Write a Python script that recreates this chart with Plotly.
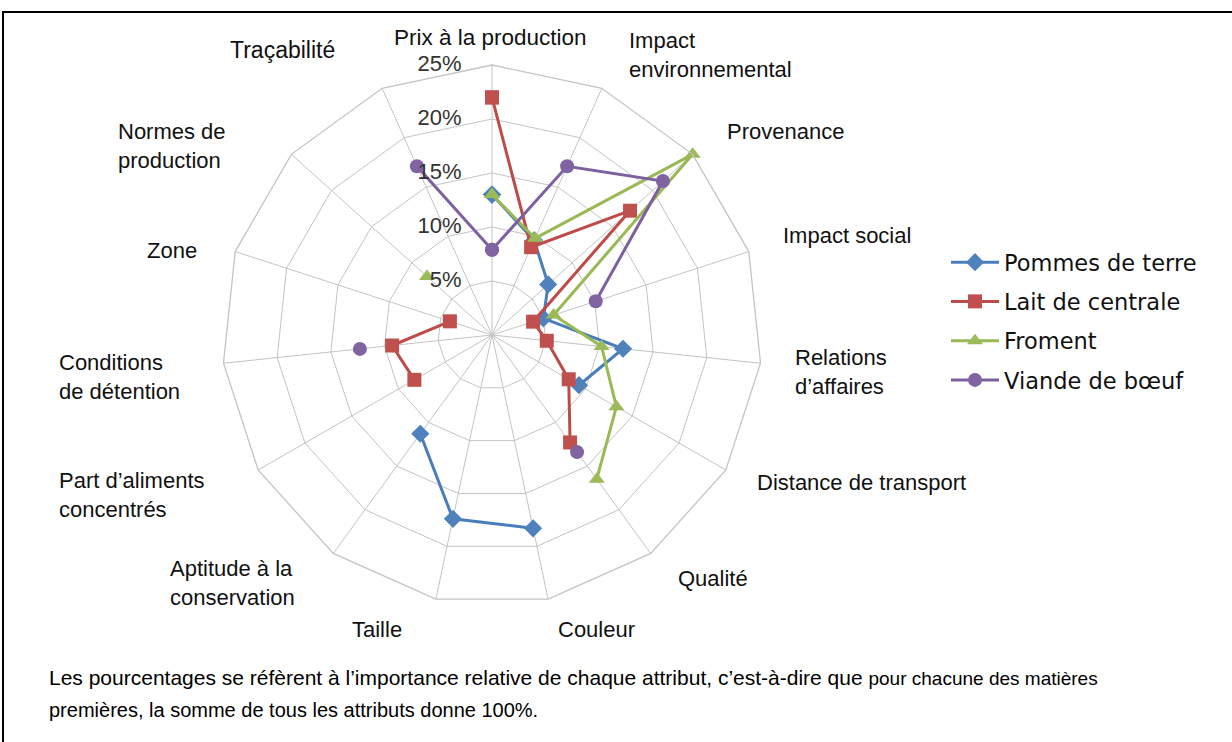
import plotly.graph_objects as go

W, H = 1232, 742

categories = [
    "Prix à la production", "Impact environnemental", "Provenance", "Impact social",
    "Relations d'affaires", "Distance de transport", "Qualité", "Couleur", "Taille",
    "Aptitude à la conservation", "Part d'aliments concentrés", "Conditions de détention",
    "Zone", "Normes de production", "Traçabilité",
]
category_labels = [
    "Prix à la production", "Impact<br>environnemental", "Provenance", "Impact social",
    "Relations<br>d’affaires", "Distance de transport", "Qualité", "Couleur", "Taille",
    "Aptitude à la<br>conservation", "Part d’aliments<br>concentrés", "Conditions<br>de détention",
    "Zone", "Normes de<br>production", "Traçabilité",
]

series_names = ["Pommes de terre", "Lait de centrale", "Froment", "Viande de bœuf"]
pommes = [13.0, 9.6, 7.0, 5.0, 12.2, 9.3, None, 18.3, 17.4, 11.3, None, None, None, None, None]
lait = [22.0, 8.9, 17.2, 4.0, 5.1, 8.2, 12.3, None, None, None, 8.3, 9.3, 4.1, None, None]
froment = [13.0, 9.8, 25.0, 6.0, 10.2, 13.3, 16.5, None, None, None, None, None, None, 8.1, None]
viande = [7.9, 17.1, 21.3, 10.1, None, None, 13.4, None, None, None, None, 12.3, None, None, 17.1]

radial_ticks = [0, 5, 10, 15, 20, 25]
tick_labels = ["0%", "5%", "10%", "15%", "20%", "25%"]

line_colors = ["#4A7EBB", "#BE4B48", "#98B954", "#7D60A0"]
fill_colors = ["#4F81BD", "#C0504D", "#9BBB59", "#8064A2"]
symbols = ["diamond", "square", "triangle-up", "circle"]
sizes = [14, 14, 14, 14]

# label placement (pixel positions of label anchors)
label_pos = [
    (490, 37, "center"), (627, 55, "left"), (725, 131, "left"), (781, 235, "left"),
    (793, 372, "left"), (755, 482, "left"), (676, 578, "left"), (596, 629, "center"),
    (377, 629, "center"), (168, 583, "left"), (57, 495, "left"), (57, 377, "left"),
    (145, 250, "left"), (116, 146, "left"), (228, 50, "left"),
]
label_sizes = [22.5, 22, 22, 22, 22, 22, 22, 22, 22, 22, 22, 22, 22, 22, 23]

cx, cy, R = 492, 335, 270


def px(x):
    return x / W


def py(y):
    return 1 - y / H


fig = go.Figure()

for name, vals, lc, fc, sym, sz in zip(series_names, [pommes, lait, froment, viande],
                                       line_colors, fill_colors, symbols, sizes):
    fig.add_trace(go.Scatterpolar(
        r=vals + [vals[0]],
        theta=categories + [categories[0]],
        mode="lines+markers",
        name=name,
        legendgroup=name,
        line=dict(color=lc, width=3),
        marker=dict(symbol=sym, size=sz, color=fc, line=dict(width=0)),
        connectgaps=False,
        cliponaxis=False,
    ))

fig.add_trace(go.Scatterpolar(
    r=radial_ticks,
    theta=[categories[0]] * len(radial_ticks),
    mode="text",
    text=[t + "\u00a0" * 5 for t in tick_labels],
    textposition="middle left",
    textfont=dict(family="Liberation Sans, Arial", size=22, color="#333333"),
    showlegend=False,
    hoverinfo="skip",
    cliponaxis=False,
))

annotations = []
for lab, (x, y, anc), fs in zip(category_labels, label_pos, label_sizes):
    annotations.append(dict(
        x=px(x), y=py(y), xref="paper", yref="paper", text=lab, showarrow=False,
        xanchor=anc, yanchor="middle", align=anc,
        font=dict(family="Liberation Sans, Arial", size=fs, color="#111111"),
    ))

annotations.append(dict(
    x=px(47), y=py(677), xref="paper", yref="paper", showarrow=False,
    xanchor="left", yanchor="middle", align="left",
    text="Les pourcentages se réfèrent à l’importance relative de chaque attribut, c’est-à-dire que "
         "<span style='font-size:19px'>pour chacune des matières</span>",
    font=dict(family="Liberation Sans, Arial", size=21, color="#000000"),
))
annotations.append(dict(
    x=px(47), y=py(710), xref="paper", yref="paper", showarrow=False,
    xanchor="left", yanchor="middle", align="left",
    text="premières, la somme de tous les attributs donne 100%.",
    font=dict(family="Liberation Sans, Arial", size=20, color="#000000"),
))

fig.update_layout(
    width=W, height=H,
    margin=dict(l=0, r=0, t=0, b=0),
    paper_bgcolor="white",
    plot_bgcolor="white",
    polar=dict(
        domain=dict(x=[px(cx - R), px(cx + R)], y=[py(cy + R), py(cy - R)]),
        bgcolor="white",
        gridshape="linear",
        radialaxis=dict(range=[0, 25], tickvals=radial_ticks, showticklabels=False,
                        showline=False, ticks="", gridcolor="#c4c4c4", gridwidth=1.3),
        angularaxis=dict(type="category", rotation=90, direction="clockwise",
                         showticklabels=False, ticks="", gridcolor="#c4c4c4", gridwidth=1.3,
                         showline=True, linecolor="#c4c4c4", linewidth=1.3),
    ),
    legend=dict(
        x=px(946), y=py(241), xanchor="left", yanchor="top",
        font=dict(family="DejaVu Sans", size=22.5, color="#111111"),
        bgcolor="white", tracegroupgap=7, itemwidth=48,
        traceorder="grouped",
    ),
    annotations=annotations,
    shapes=[dict(type="rect", xref="paper", yref="paper",
                 x0=px(3), y0=py(12), x1=1.02, y1=-0.02,
                 line=dict(color="#000000", width=2))],
)

fig.write_html("out.html", config={"displayModeBar": False},
               post_script="document.body.style.margin='0';document.body.style.overflow='hidden';")
